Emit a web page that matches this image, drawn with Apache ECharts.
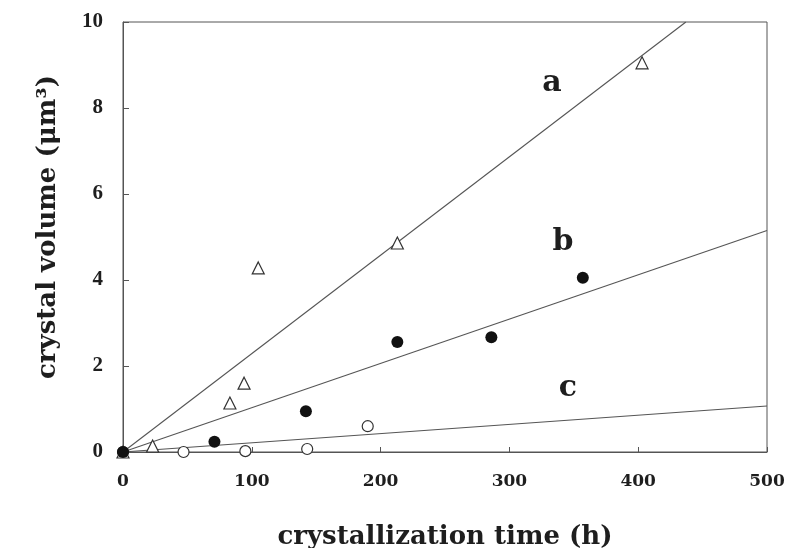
<!DOCTYPE html>
<html>
<head>
<meta charset="utf-8">
<script src="https://cdn.jsdelivr.net/npm/echarts@6/dist/echarts.min.js"></script>
<style>
html,body{margin:0;padding:0;background:#fff;}
#main{width:791px;height:548px;}
</style>
</head>
<body>
<div id="main"></div>
<script>
// measured points (time h, volume um3)
var triPoints = [[0, 0], [23, 0.14], [83, 1.14], [94, 1.6], [105, 4.28], [213, 4.86], [403, 9.05]];
var dotPoints = [[0, 0], [71, 0.24], [142, 0.95], [213, 2.56], [286, 2.67], [357, 4.05]];
var ringPoints = [[0, 0], [47, 0], [95, 0.02], [143, 0.07], [190, 0.6]];
// fitted lines
var lineA = [[0, 0], [437, 10]];
var lineB = [[0, 0], [500, 5.15]];
var lineC = [[0, 0], [500, 1.07]];
// curve labels
var curveLabels = [[333, 8.58, 'a'], [341.6, 4.88, 'b'], [345.5, 1.49, 'c']];
var xTicks = [0, 100, 200, 300, 400, 500];
var yTicks = [0, 2, 4, 6, 8, 10];

var chart = echarts.init(document.getElementById('main'));
var ink = '#1e1e1e';
var lineStyleFit = {color: '#555', width: 1.1};

function fitLine(data) {
    return {
        type: 'line',
        data: data,
        symbol: 'none',
        silent: true,
        lineStyle: lineStyleFit,
        z: 1
    };
}

var option = {
    animation: false,
    backgroundColor: '#fff',
    grid: {
        left: 123,
        right: 24,
        top: 22,
        bottom: 96,
        containLabel: false,
        outerBoundsMode: 'none',
        show: true,
        borderColor: '#555',
        borderWidth: 1
    },
    xAxis: {
        type: 'value',
        min: xTicks[0],
        max: xTicks[xTicks.length - 1],
        interval: 100,
        name: 'crystallization time (h)',
        nameLocation: 'middle',
        nameGap: 72,
        nameTextStyle: {fontFamily: 'DejaVu Serif', fontWeight: 'bold', fontSize: 26, color: ink},
        axisLine: {lineStyle: {color: '#555'}},
        axisTick: {inside: true, length: 5, lineStyle: {color: '#555'}},
        splitLine: {show: false},
        axisLabel: {margin: 21, fontFamily: 'DejaVu Serif', fontWeight: 'bold', fontSize: 17, color: ink}
    },
    yAxis: {
        type: 'value',
        min: yTicks[0],
        max: yTicks[yTicks.length - 1],
        interval: 2,
        name: 'crystal volume (μm³)',
        nameLocation: 'middle',
        nameGap: 62,
        nameTextStyle: {fontFamily: 'DejaVu Serif', fontWeight: 'bold', fontSize: 26, color: ink, padding: [0, 0, 0, 20]},
        axisLine: {lineStyle: {color: '#555'}},
        axisTick: {inside: true, length: 6, lineStyle: {color: '#555'}},
        splitLine: {show: false},
        axisLabel: {margin: 20, fontFamily: 'Liberation Serif', fontWeight: 'bold', fontSize: 21, color: ink}
    },
    series: [
        fitLine(lineA),
        fitLine(lineB),
        fitLine(lineC),
        {
            type: 'scatter',
            data: ringPoints,
            symbol: 'circle',
            symbolSize: 11,
            itemStyle: {color: '#fff', borderColor: '#333', borderWidth: 1.2, opacity: 1},
            z: 3
        },
        {
            type: 'scatter',
            data: triPoints,
            symbol: 'triangle',
            symbolSize: 12,
            itemStyle: {color: '#fff', borderColor: '#333', borderWidth: 1.2, opacity: 1},
            z: 3
        },
        {
            type: 'scatter',
            data: dotPoints,
            symbol: 'circle',
            symbolSize: 12,
            itemStyle: {color: '#111', opacity: 1},
            z: 4
        },
        {
            type: 'scatter',
            data: curveLabels,
            symbolSize: 0,
            silent: true,
            itemStyle: {opacity: 1},
            label: {
                show: true,
                position: 'inside',
                formatter: function (p) { return p.value[2]; },
                fontFamily: 'DejaVu Serif',
                fontWeight: 'bold',
                fontSize: 30,
                color: ink
            }
        }
    ]
};
chart.setOption(option);
</script>
</body>
</html>
